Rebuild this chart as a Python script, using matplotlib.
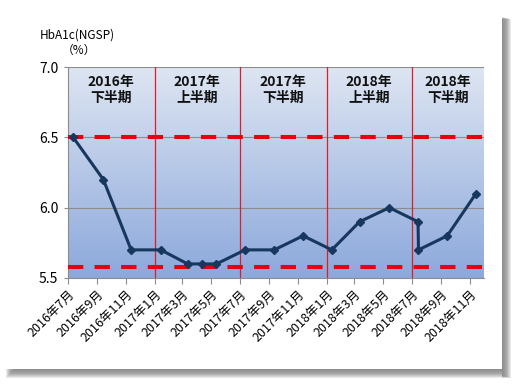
import datetime as dt
import numpy as np
import matplotlib
matplotlib.use('Agg')
import matplotlib.pyplot as plt
import matplotlib.dates as mdates
from matplotlib.patches import Rectangle

plt.rcParams['font.family'] = ['Noto Sans CJK JP', 'DejaVu Sans']

# measured dates (mid-month) and HbA1c values
dates = ['2016-07-12', '2016-09-14', '2016-11-12', '2017-01-14', '2017-03-12',
         '2017-04-12', '2017-05-12', '2017-07-12', '2017-09-12', '2017-11-12',
         '2018-01-12', '2018-03-12', '2018-05-14', '2018-07-14', '2018-07-15',
         '2018-09-14', '2018-11-14']
values = [6.5, 6.2, 5.7, 5.7, 5.6, 5.6, 5.6, 5.7, 5.7, 5.8,
          5.7, 5.9, 6.0, 5.9, 5.7, 5.8, 6.1]

tick_months = ['2016-07', '2016-09', '2016-11', '2017-01', '2017-03', '2017-05',
               '2017-07', '2017-09', '2017-11', '2018-01', '2018-03', '2018-05',
               '2018-07', '2018-09', '2018-11']
tick_labels = ['2016年7月', '2016年9月', '2016年11月', '2017年1月', '2017年3月',
               '2017年5月', '2017年7月', '2017年9月', '2017年11月', '2018年1月',
               '2018年3月', '2018年5月', '2018年7月', '2018年9月', '2018年11月']

period_bounds = ['2016-07-01', '2017-01-01', '2017-07-01', '2018-01-01',
                 '2018-07-01', '2018-12-01']
period_labels = ['2016年\n下半期', '2017年\n上半期', '2017年\n下半期',
                 '2018年\n上半期', '2018年\n下半期']

upper_ref = 6.5
lower_ref = 5.58


def d(s):
    return dt.datetime.strptime(s, '%Y-%m-%d')


x = [d(s) for s in dates]
ticks = [d(m + '-01') for m in tick_months]
bounds = [d(s) for s in period_bounds]

fig = plt.figure(figsize=(5.18, 3.86), dpi=100)

# card with a soft shadow (right and bottom)
W, H = 518.0, 386.0
card_r, card_b = 502.0, 369.0
for i in range(9):
    a = 0.10 if i < 5 else 0.05
    # right shadow strip
    fig.patches.append(Rectangle((card_r / W, (H - card_b - 9 + i * 0.3) / H),
                                 (9 - i) / W, (card_b - 10) / H,
                                 transform=fig.transFigure, facecolor='#303030',
                                 alpha=a, edgecolor='none', zorder=0))
    # bottom shadow strip
    fig.patches.append(Rectangle(((6 + i) / W, (H - card_b - 9 + i) / H),
                                 (card_r - 6 - i) / W, (9 - i) / H,
                                 transform=fig.transFigure, facecolor='#303030',
                                 alpha=a, edgecolor='none', zorder=0))
fig.patches.append(Rectangle((0, (H - card_b) / H), card_r / W, card_b / H,
                             transform=fig.transFigure, facecolor='white',
                             edgecolor='none', zorder=1))

ax = fig.add_axes([0.1313, 0.2798, 0.803, 0.5466])
ax.set_zorder(2)
ax.patch.set_visible(False)

x0, x1 = mdates.date2num(bounds[0]), mdates.date2num(bounds[-1])
grad = np.linspace(0, 1, 256).reshape(-1, 1)
top = np.array([0.87, 0.90, 0.95])
bot = np.array([0.55, 0.66, 0.86])
img = top + (bot - top) * grad[..., None]
ax.imshow(img, extent=[x0, x1, 5.5, 7.0], aspect='auto', origin='upper', zorder=0)

ax.set_xlim(x0, x1)
ax.set_ylim(5.5, 7.0)

for yv in [6.0, 6.5, 7.0]:
    ax.axhline(yv, color='#8c8c8c', lw=0.8, zorder=1)

for b in bounds[1:-1]:
    ax.axvline(b, color='#d8202a', lw=0.9, zorder=2)

for yv in [upper_ref, lower_ref]:
    ax.axhline(yv, color='#e8000b', lw=2.9, dashes=(3.8, 2.8), zorder=3)

ax.plot(x, values, color='#17375e', lw=2.2, marker='D', ms=4, zorder=4)

for i, lab in enumerate(period_labels):
    mid = bounds[i] + (bounds[i + 1] - bounds[i]) / 2
    ax.text(mid, 6.835, lab, ha='center', va='center', fontsize=10,
            fontweight='bold', color='#111111', linespacing=1.15, zorder=5)

ax.set_xticks(ticks)
ax.set_xticklabels(tick_labels, rotation=45, ha='right', rotation_mode='anchor',
                   fontsize=9)
ax.set_yticks([5.5, 6.0, 6.5, 7.0])
ax.set_yticklabels(['5.5', '6.0', '6.5', '7.0'], fontsize=10)
ax.tick_params(axis='x', length=4, color='#8c8c8c', pad=3)
ax.tick_params(axis='y', length=3, color='#8c8c8c', pad=4)

for s in ['top', 'right']:
    ax.spines[s].set_visible(False)
for s in ['left', 'bottom']:
    ax.spines[s].set_color('#8c8c8c')
    ax.spines[s].set_linewidth(0.8)

fig.text(40 / W, 1 - 35 / H, 'HbA1c(NGSP)', fontsize=8.5, va='center', ha='left',
         zorder=3)
fig.text(62 / W, 1 - 50 / H, '（%）', fontsize=8.5, va='center', ha='left',
         zorder=3)

fig.savefig('out.png', dpi=100)
